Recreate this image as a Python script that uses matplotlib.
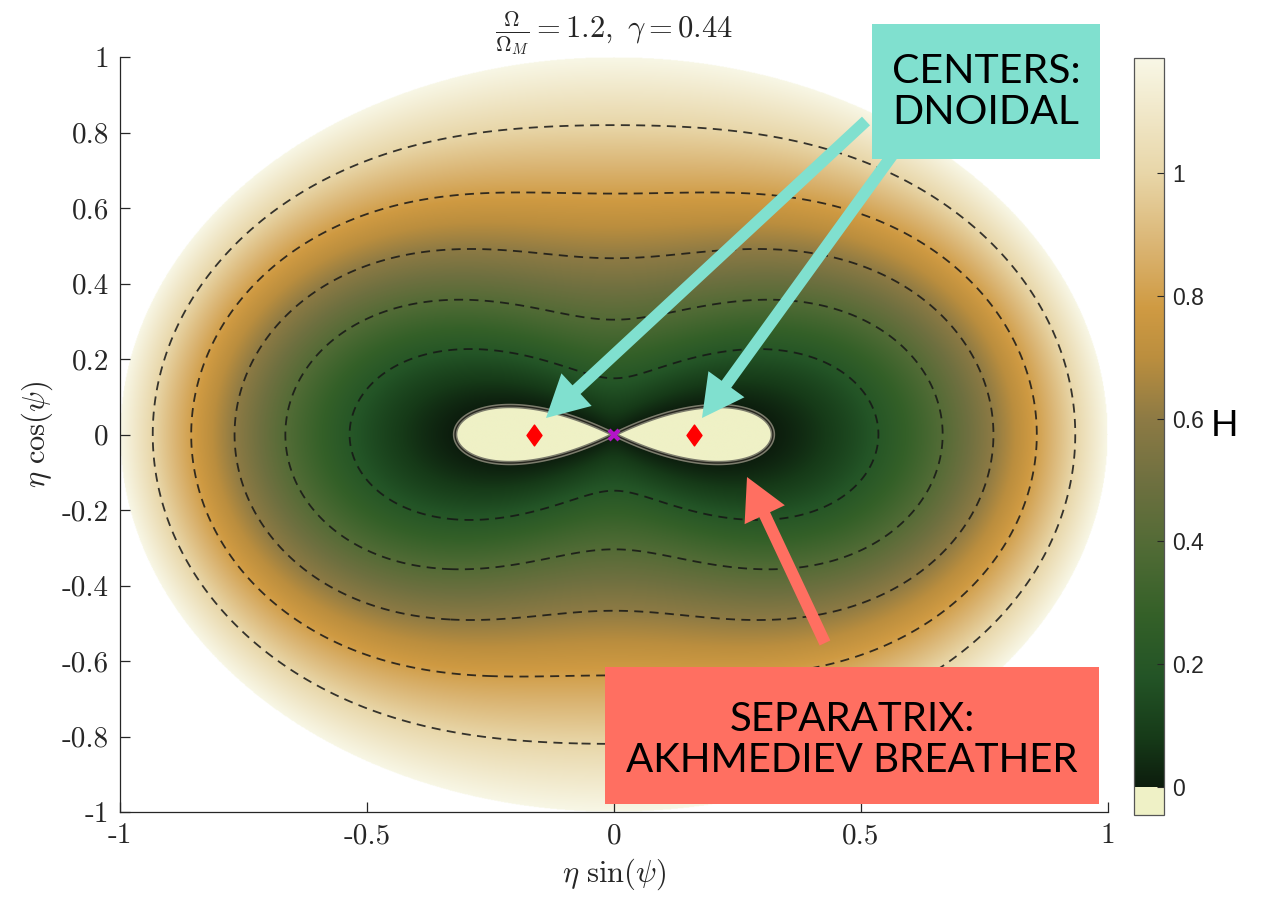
import numpy as np
import matplotlib.pyplot as plt
from matplotlib.colors import LinearSegmentedColormap, Normalize
from matplotlib.patches import FancyArrowPatch, Rectangle
from matplotlib.path import Path

plt.rcParams['mathtext.fontset'] = 'cm'

# parameters shown in the title
OMEGA_RATIO = 1.2
GAMMA = 0.44

# H(eta, psi) = A (1 - eta) eta cos(2 psi) + B eta + C eta^2
H_A = 0.967
H_B = 0.404
H_C = 0.783

CONTOUR_LEVELS = [0.2, 0.4, 0.6, 0.8, 1.0]
CENTERS_X = [-0.162, 0.162]
CENTERS_Y = [0.0, 0.0]
SADDLE_X = [0.0]
SADDLE_Y = [0.0]

X_TICKS = [-1, -0.5, 0, 0.5, 1]
X_TICKLABELS = ['-1', '-0.5', '0', '0.5', '1']
Y_TICKS = [-1, -0.8, -0.6, -0.4, -0.2, 0, 0.2, 0.4, 0.6, 0.8, 1]
Y_TICKLABELS = ['-1', '-0.8', '-0.6', '-0.4', '-0.2', '0', '0.2', '0.4', '0.6', '0.8', '1']
CBAR_TICKS = [0, 0.2, 0.4, 0.6, 0.8, 1.0]
CBAR_TICKLABELS = ['0', '0.2', '0.4', '0.6', '0.8', '1']

# colormap nodes (H value -> colour); negative H is the trapped region
CMAP_H = [0.0, 0.08, 0.18, 0.28, 0.38, 0.5, 0.6, 0.7, 0.78, 0.88, 1.0, 1.19]
CMAP_COLORS = ['#0c1c0d', '#163a18', '#235426', '#346028', '#4e6a34', '#6f7040',
               '#8d7a44', '#bb8e3e', '#cf9a42', '#dab472', '#e8d6a8', '#f8f7e6']
NEG_COLOR = '#eff1c6'

# --- Hamiltonian on the unit disk ---
n = 1201
x = np.linspace(-1, 1, n)
X, Y = np.meshgrid(x, x)
eta = np.hypot(X, Y)
cos2psi_eta = np.where(eta > 0, (Y**2 - X**2) / np.where(eta > 0, eta, 1), 0.0)
H = H_A * (1 - eta) * cos2psi_eta + H_B * eta + H_C * eta**2
H = np.where(eta <= 1.0, H, np.nan)

vmin, vmax = np.nanmin(H), np.nanmax(H)
span = vmax - vmin
f0 = (0.0 - vmin) / span
nodes = [(0.0, NEG_COLOR), (f0 - 1e-4, NEG_COLOR)]
for h, c in zip(CMAP_H, CMAP_COLORS):
    nodes.append((min((h - vmin) / span, 1.0), c))
nodes[-1] = (1.0, nodes[-1][1])
cmap = LinearSegmentedColormap.from_list('ham', nodes, N=2048)
cmap.set_bad('white')
norm = Normalize(vmin=vmin, vmax=vmax)

W, Hpx = 1270, 899
fig = plt.figure(figsize=(W / 100, Hpx / 100), dpi=100)
ax = fig.add_axes([120 / W, 1 - 812 / Hpx, 988 / W, 755 / Hpx])

im = ax.imshow(H, extent=(-1, 1, -1, 1), origin='lower', cmap=cmap, norm=norm,
               aspect='auto', interpolation='bilinear')
ax.contour(X, Y, H, levels=CONTOUR_LEVELS, colors='#161616', linewidths=1.3,
           linestyles=[(0, (5, 3.5))] * len(CONTOUR_LEVELS), alpha=0.85)
# separatrix
ax.contour(X, Y, H, levels=[0.0], colors='#7c7c6c', linewidths=3.2)
ax.contour(X, Y, H, levels=[0.0], colors='#26261f', linewidths=1.0)

diamond = Path([(0, 1), (0.72, 0), (0, -1), (-0.72, 0), (0, 1)],
               [Path.MOVETO, Path.LINETO, Path.LINETO, Path.LINETO, Path.CLOSEPOLY])
ax.plot(CENTERS_X, CENTERS_Y, ls='none', marker=diamond, ms=15, color='#ff0000', mec='#ff0000')
ax.plot(SADDLE_X, SADDLE_Y, ls='none', marker='x', ms=7, mew=3, color='#b414c8')

ax.set_xlim(-1, 1)
ax.set_ylim(-1, 1)
for s in ('top', 'right'):
    ax.spines[s].set_visible(False)
for s in ('left', 'bottom'):
    ax.spines[s].set_color('#262626')
    ax.spines[s].set_linewidth(0.9)
ax.set_xticks(X_TICKS)
ax.set_xticklabels(X_TICKLABELS, family='cmr10', fontsize=21)
ax.set_yticks(Y_TICKS)
ax.set_yticklabels(Y_TICKLABELS, family='cmr10', fontsize=21)
ax.tick_params(direction='in', length=7, width=0.9, colors='#262626', pad=8)
ax.set_xlabel(r'$\eta\ \sin(\psi)$', fontsize=22, color='#262626', labelpad=5)
ax.set_ylabel(r'$\eta\ \cos(\psi)$', fontsize=22, color='#262626', labelpad=5)
ax.set_title(r'$\frac{\Omega}{\Omega_M} = %g,\ \gamma = %g$' % (OMEGA_RATIO, GAMMA),
             fontsize=22, color='#262626', pad=7)

# colorbar
cax = fig.add_axes([1134 / W, 1 - 815 / Hpx, 30 / W, 757 / Hpx])
cb = fig.colorbar(im, cax=cax)
cb.set_ticks(CBAR_TICKS)
cb.set_ticklabels(CBAR_TICKLABELS)
cb.outline.set_edgecolor('#555555')
cb.outline.set_linewidth(0.9)
cax.tick_params(direction='in', length=5, width=0.8, colors='#262626', labelsize=16.5, pad=6)
for lbl in cax.get_yticklabels():
    lbl.set_family('Liberation Sans')
fig.text(1225 / W, 1 - 425 / Hpx, 'H', fontsize=26, family='Lato', ha='center', va='center')


def fpt(px, py):
    return (px / W, 1 - py / Hpx)


teal = '#80e0cf'
salmon = '#ff6f61'
arrow_style = 'simple,head_length=3.0,head_width=3.2,tail_width=0.85'
for tail, tip, col in [((866, 121), (546, 418), teal),
                       ((896, 150), (702, 418), teal),
                       ((825, 643), (747, 477), salmon)]:
    fig.patches.append(FancyArrowPatch(fpt(*tail), fpt(*tip), transform=fig.transFigure,
                                       arrowstyle=arrow_style, mutation_scale=10,
                                       color=col, lw=0, shrinkA=0, shrinkB=0, zorder=5))

# annotation boxes
fig.patches.append(Rectangle(fpt(872, 159), 228 / W, 135 / Hpx, transform=fig.transFigure,
                             facecolor=teal, edgecolor='none', zorder=6))
fig.text(892 / W, 1 - 92 / Hpx, 'CENTERS:\nDNOIDAL', fontsize=29.5, family='Lato',
         ha='left', va='center', linespacing=1.15, zorder=7)
fig.patches.append(Rectangle(fpt(605, 804), 494 / W, 137 / Hpx, transform=fig.transFigure,
                             facecolor=salmon, edgecolor='none', zorder=6))
fig.text(852 / W, 1 - 740 / Hpx, 'SEPARATRIX:\nAKHMEDIEV BREATHER', fontsize=29, family='Lato',
         ha='center', va='center', linespacing=1.15, zorder=7)

fig.savefig('out.png', dpi=100)
